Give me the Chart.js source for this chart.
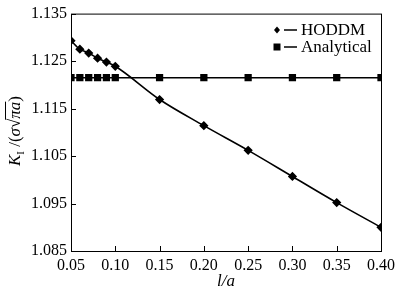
<!DOCTYPE html>
<html>
<head>
<meta charset="utf-8">
<script src="https://cdn.jsdelivr.net/npm/chart.js@4/dist/chart.umd.min.js"></script>
<style>
  html, body { margin: 0; padding: 0; background: #fff; }
  #caja { width: 400px; height: 289px; }
</style>
</head>
<body>
<div id="caja"><canvas id="grafico" width="400" height="289"></canvas></div>
<script>
// datos
const razonLA = [0.05, 0.06, 0.07, 0.08, 0.09, 0.10, 0.15, 0.20, 0.25, 0.30, 0.35, 0.40];
const valoresHODDM = [1.1293, 1.1275, 1.1267, 1.1256, 1.1248, 1.1239, 1.1169, 1.1114, 1.1062, 1.1007, 1.0952, 1.0900];
const valoresAnalitico = [1.1215, 1.1215, 1.1215, 1.1215, 1.1215, 1.1215, 1.1215, 1.1215, 1.1215, 1.1215, 1.1215, 1.1215];
const ticksX = [0.05, 0.10, 0.15, 0.20, 0.25, 0.30, 0.35, 0.40];
const ticksY = [1.085, 1.095, 1.105, 1.115, 1.125, 1.135];

const fuente = '"Liberation Serif", "Times New Roman", serif';

const puntos = (ys) => razonLA.map((x, i) => ({x: x, y: ys[i]}));

// marco, marcas hacia adentro, leyenda y titulos de ejes
const decorado = {
  id: 'decorado',
  afterDraw(chart) {
    const ctx = chart.ctx;
    const a = chart.chartArea;
    const sx = chart.scales.x, sy = chart.scales.y;
    ctx.save();
    ctx.strokeStyle = '#000';
    ctx.lineWidth = 1;
    ctx.strokeRect(a.left + 0.5, a.top + 0.5, a.right - a.left, a.bottom - a.top);
    ctx.beginPath();
    ticksX.forEach(v => {
      const px = Math.round(sx.getPixelForValue(v)) + 0.5;
      ctx.moveTo(px, a.bottom);
      ctx.lineTo(px, a.bottom - 5);
    });
    ticksY.forEach(v => {
      const py = Math.round(sy.getPixelForValue(v)) + 0.5;
      ctx.moveTo(a.left, py);
      ctx.lineTo(a.left + 5, py);
    });
    ctx.stroke();

    // leyenda
    const filas = [
      {txt: 'HODDM', forma: 'rombo', y: 30},
      {txt: 'Analytical', forma: 'cuadro', y: 47}
    ];
    ctx.fillStyle = '#000';
    ctx.font = '17px ' + fuente;
    ctx.textBaseline = 'middle';
    ctx.textAlign = 'left';
    filas.forEach(f => {
      const mx = 277;
      ctx.beginPath();
      if (f.forma === 'rombo') {
        ctx.moveTo(mx, f.y - 3.5); ctx.lineTo(mx + 3, f.y);
        ctx.lineTo(mx, f.y + 3.5); ctx.lineTo(mx - 3, f.y);
        ctx.closePath();
      } else {
        ctx.rect(mx - 3.5, f.y - 3.5, 7, 7);
      }
      ctx.fill();
      ctx.fillRect(284, f.y - 0.75, 13, 1.5);
      ctx.fillText(f.txt, 301, f.y + 1);
    });

    // titulo eje x
    ctx.font = 'italic 17px ' + fuente;
    ctx.textAlign = 'center';
    ctx.textBaseline = 'alphabetic';
    ctx.fillText('l/a', (a.left + a.right) / 2, 286);

    // titulo eje y: K_I /(σ√πa)
    ctx.textAlign = 'left';
    ctx.translate(15, 131);
    ctx.rotate(-Math.PI / 2);
    const piezas = [
      {t: 'K', f: 'italic 17px ', dy: 0},
      {t: 'I', f: '11px ', dy: 4},
      {t: ' /(', f: '17px ', dy: 0},
      {t: 'σ', f: 'italic 17px ', dy: 0},
      {t: '√', f: '17px ', dy: 0},
      {t: 'πa', f: 'italic 17px ', dy: 0, barra: true},
      {t: ')', f: '17px ', dy: 0}
    ];
    let ancho = 0;
    piezas.forEach(p => { ctx.font = p.f + fuente; ancho += ctx.measureText(p.t).width; });
    let x = -ancho / 2;
    piezas.forEach(p => {
      ctx.font = p.f + fuente;
      const w = ctx.measureText(p.t).width;
      ctx.fillText(p.t, x, 5 + p.dy);
      if (p.barra) ctx.fillRect(x - 1, -10, w + 1, 1);
      x += w;
    });
    ctx.restore();
  }
};

new Chart(document.getElementById('grafico'), {
  type: 'line',
  data: {
    datasets: [{
      label: 'HODDM',
      data: puntos(valoresHODDM),
      borderColor: '#000',
      backgroundColor: '#000',
      borderWidth: 1.6,
      pointStyle: 'rectRot',
      pointRadius: 3.5,
      cubicInterpolationMode: 'monotone'
    }, {
      label: 'Analytical',
      data: puntos(valoresAnalitico),
      borderColor: '#000',
      backgroundColor: '#000',
      borderWidth: 1.6,
      pointStyle: 'rect',
      pointRadius: 4
    }]
  },
  options: {
    responsive: false,
    animation: false,
    layout: {padding: {left: 0, right: 13, top: 6, bottom: 0}},
    plugins: {legend: {display: false}, tooltip: {enabled: false}},
    scales: {
      x: {
        type: 'linear',
        min: 0.05, max: 0.40,
        afterBuildTicks: (s) => { s.ticks = ticksX.map(v => ({value: v})); },
        afterFit: (s) => { s.height = 38; },
        grid: {display: false, drawTicks: false},
        border: {display: false},
        ticks: {
          color: '#000', padding: 5,
          font: {family: fuente, size: 16},
          callback: (v) => v.toFixed(2)
        }
      },
      y: {
        min: 1.085, max: 1.135,
        afterBuildTicks: (s) => { s.ticks = ticksY.map(v => ({value: v})); },
        afterFit: (s) => { s.width = 71; },
        grid: {display: false, drawTicks: false},
        border: {display: false},
        ticks: {
          color: '#000', padding: 4,
          font: {family: fuente, size: 16},
          callback: (v) => v.toFixed(3)
        }
      }
    }
  },
  plugins: [decorado]
});
</script>
</body>
</html>
